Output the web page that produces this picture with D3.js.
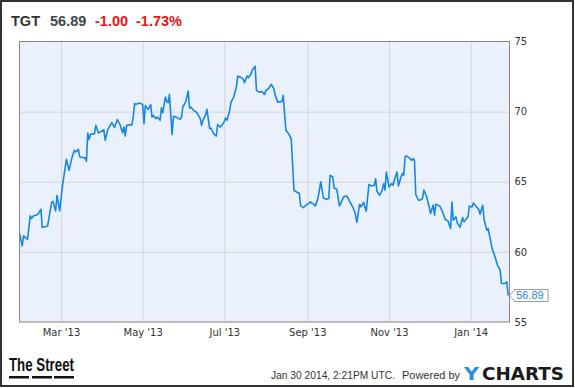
<!DOCTYPE html>
<html>
<head>
<meta charset="utf-8">
<script src="https://cdn.jsdelivr.net/npm/d3@7"></script>
<style>
body{margin:0;background:#fff;}
svg{display:block;}
.grid line{stroke:#d6d6d6;stroke-width:1;}
.grid path{display:none;}
.axis path,.axis line{display:none;}
.axis text{font-family:"DejaVu Sans";font-size:10px;fill:#333;}
</style>
</head>
<body>
<svg></svg>
<script>
var ticker = "TGT"
var lastPrice = "56.89"
var change = "-1.00"
var changePct = "-1.73%"

var dates = ["2013-01-29","2013-01-31","2013-02-01","2013-02-04","2013-02-06","2013-02-07","2013-02-08","2013-02-12","2013-02-14","2013-02-15",
"2013-02-19","2013-02-22","2013-02-23","2013-02-25","2013-02-26","2013-02-28","2013-03-02","2013-03-04","2013-03-05","2013-03-07",
"2013-03-09","2013-03-11","2013-03-12","2013-03-14","2013-03-15","2013-03-19","2013-03-20","2013-03-21","2013-03-22","2013-03-23",
"2013-03-26","2013-03-27","2013-03-29","2013-04-02","2013-04-03","2013-04-05","2013-04-08","2013-04-10","2013-04-12","2013-04-14",
"2013-04-16","2013-04-17","2013-04-18","2013-04-19","2013-04-23","2013-04-24","2013-04-25","2013-04-26","2013-04-29","2013-05-01",
"2013-05-02","2013-05-03","2013-05-05","2013-05-07","2013-05-08","2013-05-09","2013-05-11","2013-05-12","2013-05-14","2013-05-15",
"2013-05-16","2013-05-18","2013-05-19","2013-05-20","2013-05-21","2013-05-23","2013-05-24","2013-05-26","2013-05-29","2013-05-30",
"2013-05-31","2013-06-02","2013-06-03","2013-06-04","2013-06-05","2013-06-06","2013-06-08","2013-06-10","2013-06-11","2013-06-13",
"2013-06-14","2013-06-15","2013-06-17","2013-06-18","2013-06-20","2013-06-21","2013-06-23","2013-06-25","2013-06-26","2013-06-28",
"2013-06-30","2013-07-01","2013-07-02","2013-07-03","2013-07-05","2013-07-06","2013-07-08","2013-07-10","2013-07-11","2013-07-13",
"2013-07-15","2013-07-16","2013-07-18","2013-07-19","2013-07-21","2013-07-22","2013-07-24","2013-07-25","2013-07-27","2013-07-29",
"2013-07-31","2013-08-01","2013-08-03","2013-08-05","2013-08-07","2013-08-08","2013-08-10","2013-08-11","2013-08-13","2013-08-14",
"2013-08-15","2013-08-16","2013-08-18","2013-08-19","2013-08-20","2013-08-22","2013-08-23","2013-08-26","2013-08-27","2013-08-29",
"2013-08-31","2013-09-02","2013-09-03","2013-09-05","2013-09-07","2013-09-09","2013-09-11","2013-09-13","2013-09-15","2013-09-17",
"2013-09-18","2013-09-20","2013-09-21","2013-09-23","2013-09-25","2013-09-26","2013-09-28","2013-09-30","2013-10-01","2013-10-03",
"2013-10-04","2013-10-06","2013-10-07","2013-10-08","2013-10-10","2013-10-11","2013-10-13","2013-10-15","2013-10-17","2013-10-19",
"2013-10-21","2013-10-22","2013-10-23","2013-10-25","2013-10-27","2013-10-28","2013-10-29","2013-10-30","2013-11-01","2013-11-03",
"2013-11-04","2013-11-05","2013-11-07","2013-11-08","2013-11-10","2013-11-11","2013-11-12","2013-11-13","2013-11-14","2013-11-16",
"2013-11-18","2013-11-19","2013-11-20","2013-11-21","2013-11-23","2013-11-24","2013-11-26","2013-11-27","2013-11-29","2013-12-01",
"2013-12-02","2013-12-04","2013-12-05","2013-12-06","2013-12-09","2013-12-11","2013-12-13","2013-12-15","2013-12-17","2013-12-18",
"2013-12-19","2013-12-21","2013-12-22","2013-12-24","2013-12-26","2013-12-27","2013-12-30","2013-12-31","2014-01-02","2014-01-03",
"2014-01-05","2014-01-07","2014-01-08","2014-01-10","2014-01-11","2014-01-13","2014-01-14","2014-01-17","2014-01-19","2014-01-21",
"2014-01-23","2014-01-24","2014-01-27","2014-01-28","2014-01-29"]

var prices = [61.31,60.43,61.14,60.89,62.57,62.38,62.54,62.69,63.04,61.74,
61.85,63.52,63.61,62.92,64.02,62.92,64.63,65.94,66.60,65.82,
66.65,67.24,67.12,67.31,66.77,66.70,66.46,68.47,68.02,68.38,
68.43,69.02,68.47,68.71,67.95,68.74,69.21,68.86,69.43,69.09,
68.50,68.90,68.26,69.02,69.07,69.66,70.57,70.52,70.61,70.50,
69.14,70.44,70.14,70.50,69.61,69.73,69.50,69.61,69.38,70.28,
69.93,71.04,70.73,70.64,71.21,68.36,69.66,69.61,69.45,69.61,
70.33,70.68,71.04,71.46,70.25,70.33,70.09,69.97,69.85,69.50,
69.02,69.38,69.78,70.16,68.79,68.83,68.43,68.26,69.07,68.90,
69.14,69.31,69.54,69.38,70.09,70.68,71.04,71.75,72.53,72.46,
72.34,72.06,72.53,72.42,72.70,73.01,73.24,71.51,71.39,71.44,
71.23,71.51,71.63,71.94,71.63,71.16,70.68,70.68,70.73,71.16,
69.85,68.67,68.43,68.26,68.02,64.40,64.32,64.16,63.28,63.16,
63.33,63.45,63.56,63.45,63.28,63.85,64.99,63.85,63.75,63.80,
65.46,65.34,64.56,64.47,63.28,63.45,63.92,63.99,63.92,63.52,
63.38,62.97,62.62,62.10,63.38,63.21,63.52,62.90,64.80,64.70,
64.75,65.22,64.32,64.04,64.40,64.87,64.40,65.70,64.63,64.87,
64.75,65.11,65.70,64.70,65.34,65.58,65.46,66.77,66.84,66.70,
66.53,66.65,66.53,64.09,63.68,63.68,63.80,64.40,63.97,63.21,
62.74,63.33,62.62,63.40,63.26,62.85,62.31,62.21,61.67,63.56,
62.26,62.50,62.07,61.74,62.45,62.14,62.50,63.26,63.21,63.49,
63.26,63.02,62.69,63.33,62.31,61.55,61.67,60.25,59.70,59.06,
58.70,57.75,57.75,57.87,56.89]

var yTicks = [55,60,65,70,75]
var xTicks = ["2013-03-01","2013-05-01","2013-07-01","2013-09-01","2013-11-01","2014-01-01"]
var xDomain = ["2013-01-29","2014-01-30"]

var parseDate = d3.timeParse("%Y-%m-%d")

var drawGrid = function(target,graph,xScale,yScale)
{
    target.append("rect")
    .attr("width",graph.width)
    .attr("height",graph.height)
    .attr("fill","#eaf1fc")

    target.append("g")
    .classed("grid",true)
    .attr("transform","translate(0,"+graph.height+")")
    .call(d3.axisBottom(xScale)
          .tickValues(xTicks.map(parseDate))
          .tickSize(-graph.height)
          .tickFormat(""))

    target.append("g")
    .classed("grid",true)
    .call(d3.axisLeft(yScale)
          .tickValues(yTicks.slice(1,-1))
          .tickSize(-graph.width)
          .tickFormat(""))
}

var drawAxes = function(target,graph,xScale,yScale)
{
    target.append("g")
    .classed("axis",true)
    .attr("transform","translate(0,"+graph.height+")")
    .call(d3.axisBottom(xScale)
          .tickValues(xTicks.map(parseDate))
          .tickSize(0)
          .tickPadding(7)
          .tickFormat(d3.timeFormat("%b '%y")))

    target.append("g")
    .classed("axis",true)
    .attr("transform","translate("+graph.width+",0)")
    .call(d3.axisRight(yScale)
          .tickValues(yTicks)
          .tickSize(0)
          .tickPadding(5))

    //frame round the plot
    target.append("rect")
    .attr("width",graph.width)
    .attr("height",graph.height)
    .attr("fill","none")
    .attr("stroke","#858585")
    .attr("stroke-width",1)
}

var drawLine = function(target,xScale,yScale)
{
    var points = dates.map(function(d,i){ return {date:parseDate(d),price:prices[i]} })

    var line = d3.line()
        .x(function(p){ return xScale(p.date) })
        .y(function(p){ return yScale(p.price) })

    target.append("path")
    .datum(points)
    .attr("d",line)
    .attr("fill","none")
    .attr("stroke","#1787e4")
    .attr("stroke-width",1.6)
    .attr("stroke-linejoin","round")

    //last price flag
    var last = points[points.length-1]
    var lx = xScale(last.date)+1
    var ly = yScale(last.price)
    target.append("path")
    .attr("d","M"+lx+","+ly+"L"+(lx+5)+","+(ly-5)+"V"+(ly-6)+"H"+(lx+39)+"V"+(ly+6)+"H"+(lx+5)+"V"+(ly+5)+"Z")
    .attr("fill","#fff")
    .attr("stroke","#9a9a9a")
    .attr("stroke-width",1)

    target.append("text")
    .text(lastPrice)
    .attr("x",lx+7)
    .attr("y",ly+4)
    .attr("font-family","Liberation Sans")
    .attr("font-size","11px")
    .attr("fill","#1f8ae0")
}

var drawLabels = function(svg)
{
    var labels = svg.append("g")
    .classed("labels",true)
    .attr("font-family","Liberation Sans")
    .attr("font-weight","bold")
    .attr("font-size","14.5px")

    labels.append("text").text(ticker).attr("x",11).attr("y",26).attr("fill","#333")
    labels.append("text").text(lastPrice).attr("x",50).attr("y",26).attr("fill","#444")
    labels.append("text").text(change).attr("x",95).attr("y",26).attr("fill","#ee1111")
    labels.append("text").text(changePct).attr("x",136).attr("y",26).attr("fill","#ee1111")

    //footer
    var foot = svg.append("g")
    .attr("font-family","Liberation Sans")
    .attr("font-size","11px")
    .attr("fill","#333")
    foot.append("text").text("Jan 30 2014, 2:21PM UTC.")
    .attr("x",271).attr("y",379)
    .attr("textLength",124).attr("lengthAdjust","spacingAndGlyphs")
    foot.append("text").text("Powered by")
    .attr("x",402).attr("y",379)
    .attr("textLength",58).attr("lengthAdjust","spacingAndGlyphs")

    svg.append("text").text("Y")
    .attr("x",464).attr("y",380)
    .attr("font-family","DejaVu Sans").attr("font-weight","bold").attr("font-size","18px")
    .attr("textLength",15).attr("lengthAdjust","spacingAndGlyphs")
    .attr("fill","#2b8fd9")
    svg.append("text").text("CHARTS")
    .attr("x",482).attr("y",380)
    .attr("font-family","DejaVu Sans").attr("font-weight","bold").attr("font-size","18px")
    .attr("textLength",82).attr("lengthAdjust","spacingAndGlyphs")
    .attr("fill","#1a1a1a")

    //The Street logo
    svg.append("text").text("The Street")
    .attr("x",9).attr("y",371)
    .attr("font-family","Liberation Sans Narrow, Liberation Sans").attr("font-weight","bold").attr("font-size","19px")
    .attr("textLength",65).attr("lengthAdjust","spacingAndGlyphs")
    .attr("fill","#111")
    svg.selectAll(".dash")
    .data([9,32,54])
    .enter()
    .append("rect")
    .classed("dash",true)
    .attr("x",function(d){ return d })
    .attr("y",376)
    .attr("width",20)
    .attr("height",2.5)
    .attr("fill","#111")
}

var initGraph = function()
{
    var screen = {width:575,height:388}
    var margins = {left:19.5,right:65.5,top:41.5,bottom:66}

    var graph =
        {
            width:screen.width-margins.left-margins.right,
            height:screen.height-margins.top-margins.bottom
        }

    var svg = d3.select("svg")
    .attr("width",screen.width)
    .attr("height",screen.height)

    //outer frame
    svg.append("rect")
    .attr("x",1).attr("y",1)
    .attr("width",572).attr("height",385)
    .attr("fill","#fff")
    .attr("stroke","#333")
    .attr("stroke-width",2)

    var target = svg.append("g")
    .attr("id","graph")
    .attr("transform","translate("+margins.left+","+margins.top+")")

    var xScale = d3.scaleTime()
        .domain(xDomain.map(parseDate))
        .range([0,graph.width])

    var yScale = d3.scaleLinear()
        .domain([55,75])
        .range([graph.height,0])

    drawGrid(target,graph,xScale,yScale)
    drawLine(target,xScale,yScale)
    drawAxes(target,graph,xScale,yScale)
    drawLabels(svg)
}

initGraph()
</script>
</body>
</html>
